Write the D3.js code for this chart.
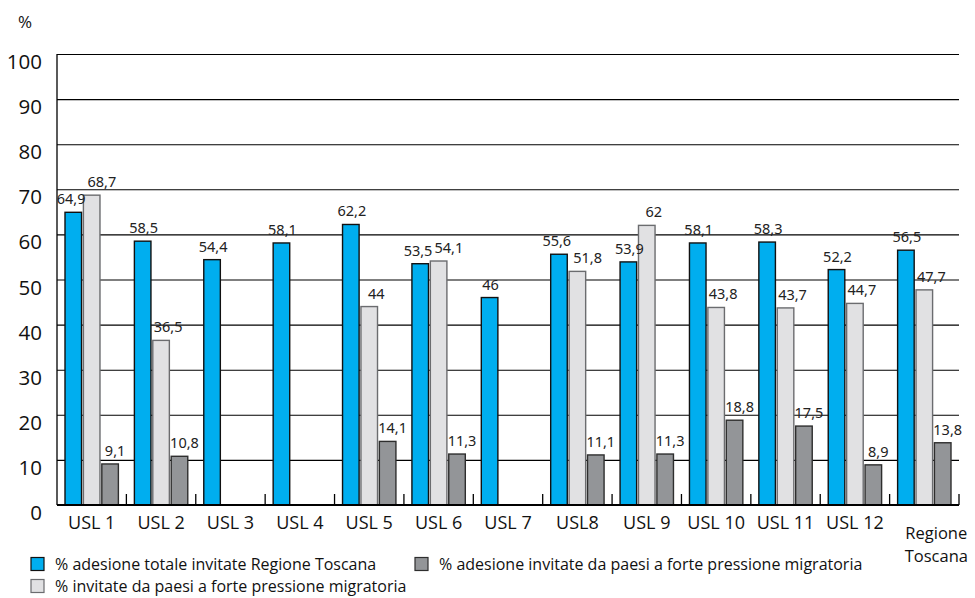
<!DOCTYPE html>
<html>
<head>
<meta charset="utf-8">
<script src="https://cdn.jsdelivr.net/npm/d3@7"></script>
<style>
  html, body { margin: 0; padding: 0; background: #fff; }
  svg { display: block; }
</style>
</head>
<body>
<svg id="chart" width="975" height="598"></svg>
<script>
// Categories (health districts + regional total)
const categories = ["USL 1", "USL 2", "USL 3", "USL 4", "USL 5", "USL 6", "USL 7",
  "USL8", "USL 9", "USL 10", "USL 11", "USL 12", "Regione Toscana"];

// % adesione totale invitate Regione Toscana
const adesioneTotale = [64.9, 58.5, 54.4, 58.1, 62.2, 53.5, 46, 55.6, 53.9, 58.1, 58.3, 52.2, 56.5];
// % invitate da paesi a forte pressione migratoria
const invitatePaesi = [68.7, 36.5, null, null, 44, 54.1, null, 51.8, 62, 43.8, 43.7, 44.7, 47.7];
// % adesione invitate da paesi a forte pressione migratoria
const adesionePaesi = [9.1, 10.8, null, null, 14.1, 11.3, null, 11.1, 11.3, 18.8, 17.5, 8.9, 13.8];

const yTicks = [0, 10, 20, 30, 40, 50, 60, 70, 80, 90, 100];

const seriesKeys = ["totale", "invitate", "adesione"];
const seriesNames = {
  totale: "% adesione totale invitate Regione Toscana",
  invitate: "% invitate da paesi a forte pressione migratoria",
  adesione: "% adesione invitate da paesi a forte pressione migratoria"
};
const fills = { totale: "#00aeef", invitate: "#e1e1e3", adesione: "#939598" };
const strokes = { totale: "#111", invitate: "#6b6c6f", adesione: "#2e2e2e" };
// value labels lean slightly to the right of their bar
const labelShift = { totale: 1, invitate: 7, adesione: 5 };

const seriesValues = { totale: adesioneTotale, invitate: invitatePaesi, adesione: adesionePaesi };

const svg = d3.select("#chart");
const plotLeft = 57, plotRight = 959, plotTop = 54, plotBottom = 505;

const x = d3.scaleBand().domain(categories).range([plotLeft, plotRight]).padding(0);
const inner = d3.scaleBand().domain(seriesKeys).range([8, x.bandwidth() - 8]).paddingInner(0.1);
const y = d3.scaleLinear().domain([0, 100]).range([plotBottom, plotTop]);

const axisFont = "'Open Sans', 'Noto Sans', sans-serif";
const valueFont = "'Noto Sans', 'Open Sans', sans-serif";

// Horizontal grid lines
svg.append("g")
  .attr("transform", `translate(${plotLeft},0)`)
  .call(d3.axisLeft(y).tickValues(yTicks.filter(d => d > 0)).tickSize(-(plotRight - plotLeft)).tickFormat(""))
  .call(g => g.select(".domain").remove())
  .call(g => g.selectAll(".tick line").attr("stroke", "#000").attr("stroke-width", 1.1));

// Y tick labels
svg.append("g")
  .attr("transform", `translate(${plotLeft},0)`)
  .call(d3.axisLeft(y).tickValues(yTicks).tickSize(0).tickPadding(15))
  .call(g => g.select(".domain").remove())
  .call(g => g.selectAll(".tick text")
    .attr("y", 8)
    .attr("font-family", axisFont)
    .attr("font-size", 20.5)
    .attr("fill", "#111"));

// Y axis line
svg.append("line")
  .attr("x1", plotLeft).attr("x2", plotLeft)
  .attr("y1", y(100)).attr("y2", y(0))
  .attr("stroke", "#000").attr("stroke-width", 1.3);

// "%" axis title
svg.append("text")
  .attr("x", 25).attr("y", 28)
  .attr("text-anchor", "middle")
  .attr("font-family", axisFont)
  .attr("font-size", 17)
  .attr("fill", "#111")
  .text("%");

// Bar records: bars sit left-aligned in each group, so a lone bar takes the first slot
const bars = [];
categories.forEach((cat, i) => {
  const present = seriesKeys.filter(k => seriesValues[k][i] != null);
  present.forEach((k, j) => {
    bars.push({ cat, key: k, slot: seriesKeys[j], value: seriesValues[k][i] });
  });
});

const barLayer = svg.append("g");
barLayer.selectAll("rect")
  .data(bars)
  .join("rect")
  .attr("x", d => x(d.cat) + inner(d.slot))
  .attr("y", d => y(d.value))
  .attr("width", inner.bandwidth())
  .attr("height", d => y(0) - y(d.value))
  .attr("fill", d => fills[d.key])
  .attr("stroke", d => strokes[d.key])
  .attr("stroke-width", 1.4);

// Value labels, drawn over all bars
const labelLayer = svg.append("g");
const labels = labelLayer.selectAll("text")
  .data(bars)
  .join("text")
  .attr("x", d => x(d.cat) + inner(d.slot) + inner.bandwidth() / 2 + labelShift[d.key])
  .attr("y", d => y(d.value) - 8)
  .attr("text-anchor", "middle")
  .attr("font-family", valueFont)
  .attr("font-size", 14.5)
  .attr("fill", "#222")
  .text(d => String(d.value).replace(".", ","));

// Push apart neighbouring labels in a group that would collide
categories.forEach(cat => {
  const nodes = labels.filter(d => d.cat === cat).nodes();
  for (let j = 1; j < nodes.length; j++) {
    const a = nodes[j - 1].getBBox(), b = nodes[j].getBBox();
    const overlapX = a.x + a.width + 2 - b.x;
    const overlapY = Math.min(a.y + a.height, b.y + b.height) - Math.max(a.y, b.y);
    if (overlapX > 0 && overlapY > 0) {
      const pa = d3.select(nodes[j - 1]), pb = d3.select(nodes[j]);
      pa.attr("x", +pa.attr("x") - overlapX / 2);
      pb.attr("x", +pb.attr("x") + overlapX / 2);
    }
  }
});

// Baseline with group separator ticks
svg.append("line")
  .attr("x1", plotLeft).attr("x2", plotRight)
  .attr("y1", y(0)).attr("y2", y(0))
  .attr("stroke", "#000").attr("stroke-width", 2);

svg.append("g").selectAll("line")
  .data(categories)
  .join("line")
  .attr("x1", d => x(d) + x.bandwidth())
  .attr("x2", d => x(d) + x.bandwidth())
  .attr("y1", y(0))
  .attr("y2", y(0) - 11)
  .attr("stroke", "#000")
  .attr("stroke-width", 1.3);

// Category labels
svg.append("g")
  .attr("transform", `translate(0,${plotBottom})`)
  .call(d3.axisBottom(x).tickSize(0).tickPadding(11))
  .call(g => g.select(".domain").remove())
  .call(g => g.selectAll(".tick text")
    .attr("font-family", axisFont)
    .attr("font-size", 18)
    .attr("fill", "#111"))
  .call(g => g.selectAll(".tick text")
    .filter(d => d === "Regione Toscana")
    .text(null)
    .attr("x", 12)
    .attr("y", 22)
    .attr("font-size", 16.5)
    .each(function() {
      const t = d3.select(this);
      t.append("tspan").attr("x", 12).text("Regione");
      t.append("tspan").attr("x", 12).attr("dy", 23).text("Toscana");
    }));

// Legend
const legendItems = [
  { key: "totale", x: 31, y: 564 },
  { key: "adesione", x: 415, y: 564 },
  { key: "invitate", x: 31, y: 586 }
];
const legend = svg.append("g").selectAll("g")
  .data(legendItems)
  .join("g")
  .attr("transform", d => `translate(${d.x},${d.y})`);
legend.append("rect")
  .attr("x", 0).attr("y", -6.5)
  .attr("width", 13).attr("height", 13)
  .attr("fill", d => fills[d.key])
  .attr("stroke", d => strokes[d.key])
  .attr("stroke-width", 1.2);
legend.append("text")
  .attr("x", 24).attr("y", 0)
  .attr("dy", "0.35em")
  .attr("font-family", axisFont)
  .attr("font-size", 16)
  .attr("fill", "#111")
  .text(d => seriesNames[d.key]);
</script>
</body>
</html>
